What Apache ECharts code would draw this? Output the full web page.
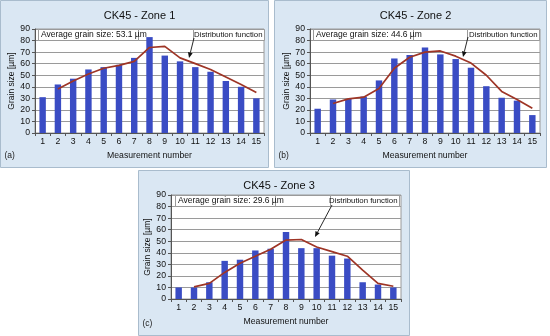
<!DOCTYPE html>
<html><head><meta charset="utf-8">
<script src="https://cdn.jsdelivr.net/npm/echarts@6/dist/echarts.min.js"></script>
<style>html,body{margin:0;padding:0;background:#fff}#c{width:550px;height:336px}</style>
</head><body><div id="c"></div><script>
// ---- data ----
const categories = ['1','2','3','4','5','6','7','8','9','10','11','12','13','14','15'];
const yMin = 0, yMax = 90, yStep = 10;
const zone1Bars = [31, 42, 47, 55, 57, 59, 65, 83, 67, 62, 57, 53, 45, 40, 30];
const zone1Fit  = [null, 38, 45, 51, 56, 58.5, 62, 74, 75, 65, 60, 55, 48.5, 42, 35];
const zone2Bars = [21, 29, 29.5, 31.5, 45.5, 64.5, 67.5, 74, 68, 64, 56.5, 40.5, 30.5, 28, 15.5];
const zone2Fit  = [null, 25.5, 29.5, 31, 38.5, 56, 65.5, 70, 71, 66.5, 60.5, 50, 36, 29, 21.5];
const zone3Bars = [10, 10, 14.5, 33, 34, 42, 43.5, 58, 44, 44, 37.5, 35, 14.5, 12.5, 10];
const zone3Fit  = [null, 10.5, 13.5, 23, 31, 37, 43, 51, 51.5, 45, 41, 37, 25, 13.5, 11];
const titles = ['CK45 - Zone 1', 'CK45 - Zone 2', 'CK45 - Zone 3'];
const averages = ['Average grain size: 53.1 µm', 'Average grain size: 44.6 µm', 'Average grain size: 29.6 µm'];
const tags = ['(a)', '(b)', '(c)'];
const fitLabel = 'Distribution function';
const xName = 'Measurement number';
const yName = 'Grain size [µm]';

// ---- layout / style ----
const FONT = 'Liberation Sans, Arial, sans-serif';
const BAR = '#3a4cc4';
const LINE = '#9e3526';
const panels = [
  {box:[0.5,0.5,268,167], grid:[35,29,229,104], avgBox:[3,100], fitBox:[158,71], arrow:[[159,9],[154,29]]},
  {box:[274.5,0.5,272,167], grid:[310,29,230,104], avgBox:[3,100], fitBox:[157,72], arrow:[[158,8],[153,28]]},
  {box:[138.5,170.5,271,165], grid:[171,195,230,104], avgBox:[4,100], fitBox:[159,69], arrow:[[161,10],[144,42]]}
];
const barsAll = [zone1Bars, zone2Bars, zone3Bars];
const fitsAll = [zone1Fit, zone2Fit, zone3Fit];

const grids = [], xAxes = [], yAxes = [], series = [], titleOpts = [], graphics = [];
panels.forEach((p, i) => {
  const [gl, gt, gw, gh] = p.grid;
  graphics.push({type:'rect', z:-10, shape:{x:p.box[0], y:p.box[1], width:p.box[2], height:p.box[3]},
    style:{fill:'#dae7f3', stroke:'#a9bccd', lineWidth:1}});
  graphics.push({type:'text', z:50, x:p.box[0]+4, y:p.box[1]+p.box[3]-16,
    style:{text:tags[i], font:'8.5px ' + FONT, fill:'#222'}});
  // average box
  graphics.push({type:'rect', z:50, shape:{x:gl+p.avgBox[0]+0.5, y:gt+0.5, width:p.avgBox[1], height:11},
    style:{fill:'#fff', stroke:'#9a9a9a', lineWidth:1}});
  graphics.push({type:'text', z:51, x:gl+p.avgBox[0]+3, y:gt+1.5,
    style:{text:averages[i], font:'8.5px ' + FONT, fill:'#111'}});
  // fit label box
  graphics.push({type:'rect', z:50, shape:{x:gl+p.fitBox[0]+0.5, y:gt+0.5, width:p.fitBox[1], height:11},
    style:{fill:'#fff', stroke:'#9a9a9a', lineWidth:1}});
  graphics.push({type:'text', z:51, x:gl+p.fitBox[0]+p.fitBox[1]-1.5, y:gt+1.8,
    style:{text:fitLabel, font:'7.8px ' + FONT, fill:'#111', align:'right'}});
  // arrow
  const [s, e] = p.arrow;
  const x1 = gl+s[0], y1 = gt+s[1], x2 = gl+e[0], y2 = gt+e[1];
  const ang = Math.atan2(y2-y1, x2-x1), L = 5.5, W = 2.4;
  const bx = x2 - L*Math.cos(ang), by = y2 - L*Math.sin(ang);
  graphics.push({type:'line', z:52, shape:{x1, y1, x2:bx, y2:by}, style:{stroke:'#111', lineWidth:0.9}});
  graphics.push({type:'polygon', z:52, shape:{points:[[x2,y2],[bx - W*Math.sin(ang), by + W*Math.cos(ang)],[bx + W*Math.sin(ang), by - W*Math.cos(ang)]]},
    style:{fill:'#111'}});

  grids.push({left:gl, top:gt, width:gw, height:gh, show:true, backgroundColor:'#fff', borderColor:'#9a9a9a', borderWidth:1});
  titleOpts.push({text:titles[i], left:p.box[0]+p.box[2]/2, top:p.box[1]+5, textAlign:'center',
    textStyle:{fontFamily:FONT, fontSize:11, fontWeight:'normal', color:'#111'}});
  xAxes.push({type:'category', gridIndex:i, data:categories, boundaryGap:true,
    axisLine:{lineStyle:{color:'#555', width:1}}, axisTick:{show:true, length:3, lineStyle:{color:'#555'}},
    axisLabel:{fontFamily:FONT, fontSize:8.7, color:'#111', margin:4},
    name:xName, nameLocation:'middle', nameGap:18, nameTextStyle:{fontFamily:FONT, fontSize:8.7, color:'#111'}});
  yAxes.push({type:'value', gridIndex:i, min:yMin, max:yMax, interval:yStep,
    axisLine:{show:true, lineStyle:{color:'#555', width:1}}, axisTick:{show:true, length:3, lineStyle:{color:'#555'}},
    splitLine:{lineStyle:{color:'#9a9a9a', width:1}},
    axisLabel:{fontFamily:FONT, fontSize:8.7, color:'#111', margin:5},
    name:yName, nameLocation:'middle', nameGap:17, nameRotate:90, nameTextStyle:{fontFamily:FONT, fontSize:8.5, color:'#111'}});
  series.push({type:'bar', xAxisIndex:i, yAxisIndex:i, data:barsAll[i], barWidth:'42%', itemStyle:{color:BAR}, animation:false});
  series.push({type:'line', xAxisIndex:i, yAxisIndex:i, data:fitsAll[i], showSymbol:false, symbol:'none',
    lineStyle:{color:LINE, width:1.7}, connectNulls:false, animation:false, z:5});
});

const chart = echarts.init(document.getElementById('c'), null, {renderer:'canvas'});
chart.setOption({animation:false, backgroundColor:'#fff', title:titleOpts, grid:grids, xAxis:xAxes, yAxis:yAxes, series, graphic:graphics});
</script></body></html>
